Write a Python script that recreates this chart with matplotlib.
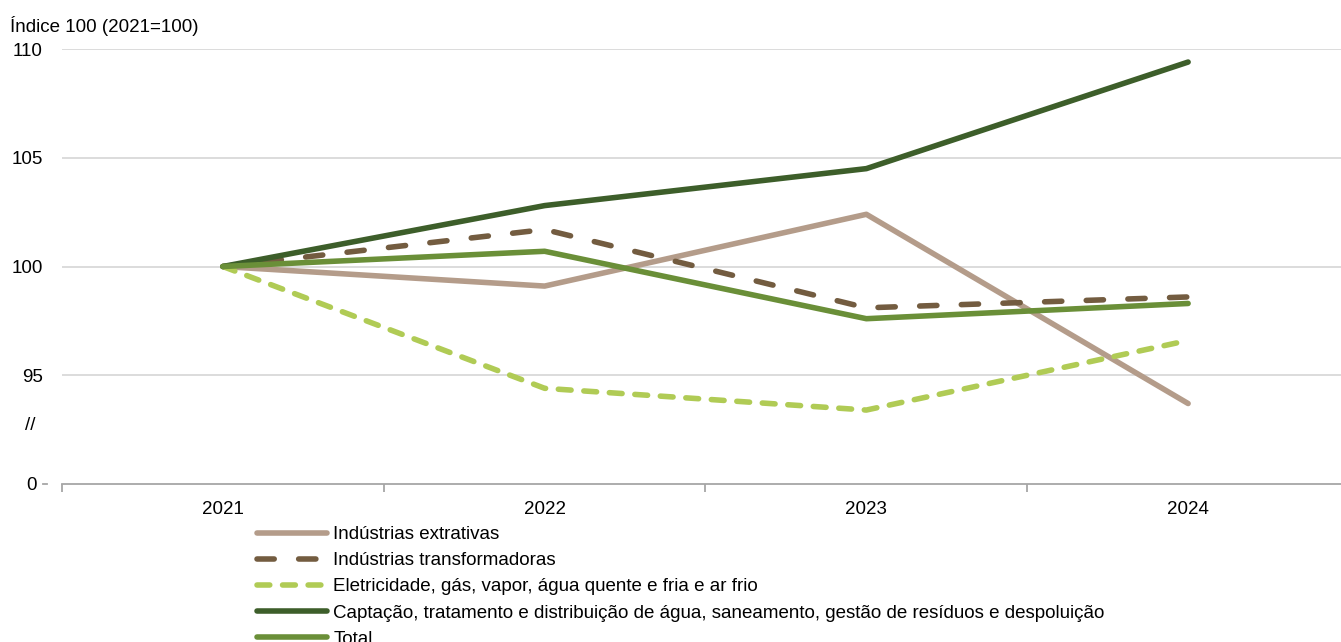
import numpy as np
import matplotlib.pyplot as plt

plt.rcParams['font.family'] = ['Liberation Sans', 'DejaVu Sans']

years = ['2021', '2022', '2023', '2024']
extrativas = [100, 99.1, 102.4, 93.7]
transformadoras = [100, 101.7, 98.1, 98.6]
eletricidade = [100, 94.4, 93.4, 96.6]
captacao = [100, 102.8, 104.5, 109.4]
total = [100, 100.7, 97.6, 98.3]

labels = ['Indústrias extrativas',
          'Indústrias transformadoras',
          'Eletricidade, gás, vapor, água quente e fria e ar frio',
          'Captação, tratamento e distribuição de água, saneamento, gestão de resíduos e despoluição',
          'Total']

fs = 13.5
fig = plt.figure(figsize=(13.41, 6.42), dpi=100)
ax = fig.add_axes([62 / 1341, 1 - 484 / 642, 1 - 62 / 1341, (484 - 49) / 642])

x = np.arange(len(years))
lw = 4.0
l1, = ax.plot(x, extrativas, color='#B49C8A', lw=lw, solid_capstyle='round', zorder=3)
l2, = ax.plot(x, transformadoras, color='#735C40', lw=lw, dashes=(3.1, 4.4),
              dash_capstyle='round', zorder=3)
l3, = ax.plot(x, eletricidade, color='#B0CB55', lw=lw, dashes=(2.3, 2.3),
              dash_capstyle='round', zorder=3)
l4, = ax.plot(x, captacao, color='#3D5E2A', lw=lw, solid_capstyle='round', zorder=4)
l5, = ax.plot(x, total, color='#6A8F38', lw=lw, solid_capstyle='round', zorder=4)

# broken axis: bottom of the axis represents 0
ax.set_ylim(90, 110)
ax.set_xlim(-0.5, (1341 - 222) / 322)
ax.set_yticks([95, 100, 105, 110])
ax.set_yticklabels(['95', '100', '105', '110'])
ax.tick_params(axis='y', length=0, labelsize=fs, pad=14)
for y in [95, 100, 105, 110]:
    ax.axhline(y, color='#D9D9D9', lw=1.3, zorder=1)

ax.set_xticks(x)
ax.set_xticklabels(years)
ax.set_xticks(np.arange(-0.5, 3, 1), minor=True)
ax.tick_params(axis='x', which='major', length=0, labelsize=fs, pad=12)
ax.tick_params(axis='x', which='minor', length=6, color='#A6A6A6', width=1.3)

for s in ['top', 'right', 'left']:
    ax.spines[s].set_visible(False)
ax.spines['bottom'].set_color('#A6A6A6')
ax.spines['bottom'].set_linewidth(1.3)

fig.text(10 / 1341, 1 - 26 / 642, 'Índice 100 (2021=100)', fontsize=fs, va='center')
fig.text(30 / 1341, 1 - 425 / 642, '//', fontsize=fs, va='center', ha='center')
fig.text(37 / 1341, 1 - 486 / 642, '0', fontsize=fs, va='center', ha='right')
fig.add_artist(plt.Line2D([43 / 1341, 47 / 1341], [1 - 484 / 642] * 2,
                          color='#A6A6A6', lw=1.3))

fig.legend([l1, l2, l3, l4, l5], labels, loc='upper left',
           bbox_to_anchor=(257 / 1341, 1 - 526 / 642), frameon=False,
           fontsize=fs, handlelength=3.75, handletextpad=0.32,
           labelspacing=0.48, borderpad=0, borderaxespad=0)

fig.savefig('out.png', dpi=100)
